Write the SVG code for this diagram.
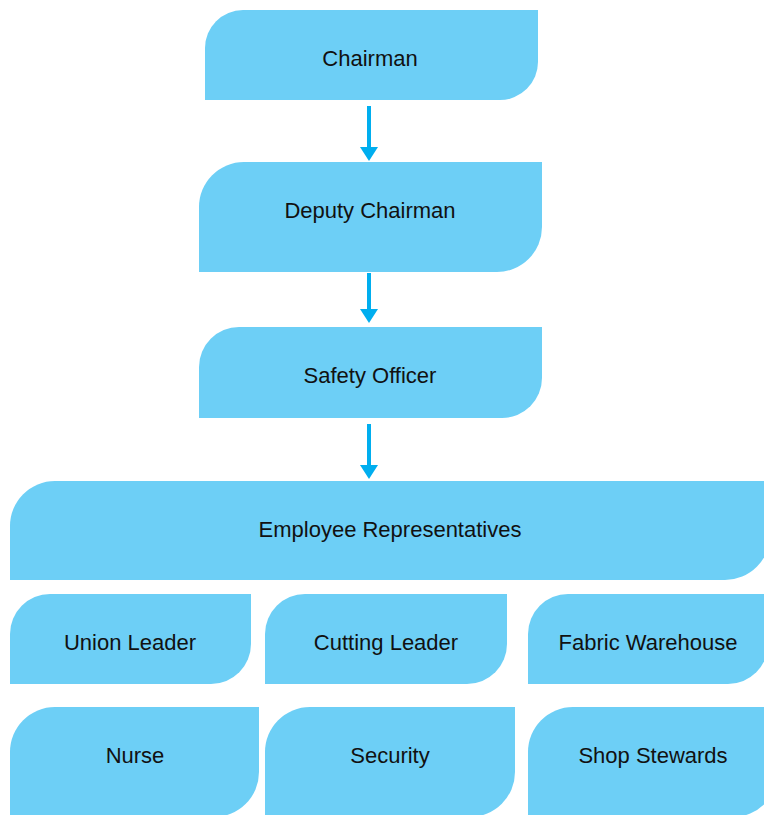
<svg xmlns="http://www.w3.org/2000/svg" width="764" height="815" viewBox="0 0 764 815">
<style>
.box{fill:#6DCFF6;}
.lbl{font-family:"Liberation Sans",Arial,Helvetica,sans-serif;font-size:22px;fill:#111;text-anchor:middle;}
.conn line{stroke:#00AEEF;stroke-width:4;}
.conn polygon{fill:#00AEEF;}
</style>
<rect width="764" height="815" fill="#fff"/>
<g id="chairman"><path class="box" d="M243,10 H538 V62 A38,38 0 0 1 500,100 H205 V48 A38,38 0 0 1 243,10 Z"/><text class="lbl" x="370" y="66">Chairman</text></g>
<g id="deputy-chairman"><path class="box" d="M244,162 H542 V227 A45,45 0 0 1 497,272 H199 V207 A45,45 0 0 1 244,162 Z"/><text class="lbl" x="370" y="218">Deputy Chairman</text></g>
<g id="safety-officer"><path class="box" d="M239,327 H542 V378 A40,40 0 0 1 502,418 H199 V367 A40,40 0 0 1 239,327 Z"/><text class="lbl" x="370" y="383">Safety Officer</text></g>
<g id="employee-representatives"><path class="box" d="M55,481 H770 V535 A45,45 0 0 1 725,580 H10 V526 A45,45 0 0 1 55,481 Z"/><text class="lbl" x="390" y="537">Employee Representatives</text></g>
<g id="union-leader"><path class="box" d="M50,594 H251 V644 A40,40 0 0 1 211,684 H10 V634 A40,40 0 0 1 50,594 Z"/><text class="lbl" x="130" y="650">Union Leader</text></g>
<g id="cutting-leader"><path class="box" d="M305,594 H507 V644 A40,40 0 0 1 467,684 H265 V634 A40,40 0 0 1 305,594 Z"/><text class="lbl" x="386" y="650">Cutting Leader</text></g>
<g id="fabric-warehouse"><path class="box" d="M568,594 H768 V644 A40,40 0 0 1 728,684 H528 V634 A40,40 0 0 1 568,594 Z"/><text class="lbl" x="648" y="650">Fabric Warehouse</text></g>
<g id="nurse"><path class="box" d="M55,707 H259 V772 A45,45 0 0 1 214,817 H10 V752 A45,45 0 0 1 55,707 Z"/><text class="lbl" x="135" y="763">Nurse</text></g>
<g id="security"><path class="box" d="M310,707 H515 V772 A45,45 0 0 1 470,817 H265 V752 A45,45 0 0 1 310,707 Z"/><text class="lbl" x="390" y="763">Security</text></g>
<g id="shop-stewards"><path class="box" d="M573,707 H778 V772 A45,45 0 0 1 733,817 H528 V752 A45,45 0 0 1 573,707 Z"/><text class="lbl" x="653" y="763">Shop Stewards</text></g>
<g id="connectors" class="conn">
<line x1="369" y1="106" x2="369" y2="148"/><polygon points="360,147 378,147 369,161"/>
<line x1="369" y1="273" x2="369" y2="310"/><polygon points="360,309 378,309 369,323"/>
<line x1="369" y1="424" x2="369" y2="466"/><polygon points="360,465 378,465 369,479"/>
</g>
</svg>
